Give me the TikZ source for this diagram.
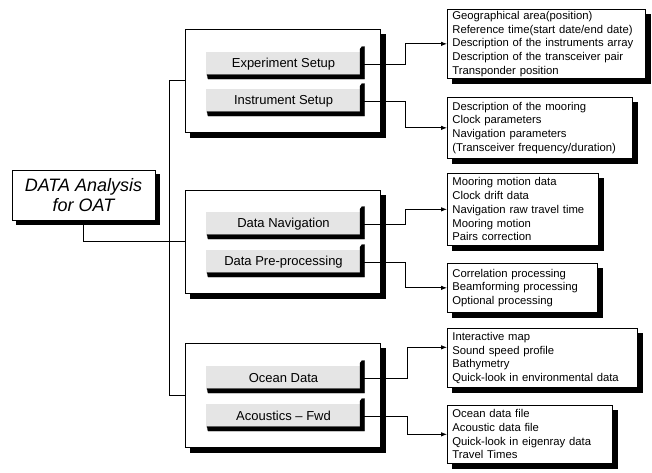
\documentclass[tikz,border=0pt]{standalone}
\usepackage{fontspec}
\setmainfont{Liberation Sans}
\usetikzlibrary{arrows.meta}
\begin{document}
\begin{tikzpicture}[x=1pt,y=-1pt,
  conn/.style={line width=0.8pt},
  arr/.style={conn,-{Latex[length=6pt,width=4.5pt]}},
  shadowfill/.style={fill=black,draw=black,line width=0.2pt},
  grp/.style={draw,line width=0.7pt,fill=white,anchor=north west,inner sep=0pt},
  info/.style={draw,line width=0.7pt,fill=white,anchor=north west,align=left,
    inner xsep=5pt,inner ysep=0pt,font=\fontsize{11.3}{13.7}\selectfont},
  mainbox/.style={draw,line width=0.7pt,fill=white,
    minimum width=143pt,minimum height=50pt,inner sep=0pt,align=center,
    font=\itshape\fontsize{18}{20}\selectfont},
  btn/.style={fill=black!10,minimum width=155pt,minimum height=24pt,inner sep=0pt,
    font=\fontsize{13}{14}\selectfont},
  btnbar/.style={fill=black,draw=black,line width=0.2pt}
  ]
\useasboundingbox (0,0) rectangle (652,472);

% shadows (drawn first)
\path[shadowfill] (155,174) -- (159,174) -- (159,224) -- (16,224) -- (16,220) -- (155,220) -- cycle;
\foreach \ya/\yb in {29/132,190/293,343/447}{
  \path[shadowfill] (380,\ya+5) -- (385,\ya+5) -- (385,\yb+5) -- (190,\yb+5) -- (190,\yb) -- (380,\yb) -- cycle;
}
\foreach \xb/\ya/\yb in {645/9/78,632/97/158,598/173/245,597/263/312,637/328/387,612/405/463}{
  \path[shadowfill] (\xb,\ya+5) -- (\xb+5,\ya+5) -- (\xb+5,\yb+5) -- (452,\yb+5) -- (452,\yb) -- (\xb,\yb) -- cycle;
}

% main node
\node[mainbox] (main) at (83.5,195) {DATA Analysis\\for OAT};

% group boxes
\node[grp,minimum width=195pt,minimum height=103pt] (g1) at (185,29) {};
\node[grp,minimum width=195pt,minimum height=103pt] (g2) at (185,190) {};
\node[grp,minimum width=195pt,minimum height=104pt] (g3) at (185,343) {};

% buttons
\node[btn] (b1) at (283.5,64) {Experiment Setup};
\node[btn] (b2) at (283.5,101) {Instrument Setup};
\node[btn] (b3) at (283.5,224) {Data Navigation};
\node[btn] (b4) at (283.5,262) {Data Pre-processing};
\node[btn] (b5) at (283.5,378) {Ocean Data};
\node[btn] (b6) at (283.5,416) {Acoustics -- Fwd};
\foreach \c in {64,101,224,262,378,416}{
  \path[btnbar] (207,\c+10.5) -- (360,\c+10.5) -- (360,\c-15) -- (362,\c-17.5)
     -- (364.5,\c-17.5) -- (364.5,\c+15) -- (208,\c+15) -- cycle;
}

% info boxes
\node[info,text width=188pt,minimum height=69pt] (r1) at (447,9)
  {Geographical area(position)\\Reference time(start date/end date)\\Description of the instruments array\\Description of the transceiver pair\\Transponder position};
\node[info,text width=175pt,minimum height=61pt] (r2) at (447,97)
  {Description of the mooring\\Clock parameters\\Navigation parameters\\(Transceiver frequency/duration)};
\node[info,text width=141pt,minimum height=72pt] (r3) at (447,173)
  {Mooring motion data\\Clock drift data\\Navigation raw travel time\\Mooring motion\\Pairs correction};
\node[info,text width=140pt,minimum height=49pt] (r4) at (447,263)
  {Correlation processing\\Beamforming processing\\Optional processing};
\node[info,text width=180pt,minimum height=59pt] (r5) at (447,328)
  {Interactive map\\Sound speed profile\\Bathymetry\\Quick-look in environmental data};
\node[info,text width=155pt,minimum height=58pt] (r6) at (447,405)
  {Ocean data file\\Acoustic data file\\Quick-look in eigenray data\\Travel Times};

% tree connectors
\draw[conn] (main.south) |- (g2.west);
\draw[conn] (g1.west) -- ++(-16pt,0pt) |- (g3.west);

% arrows
\draw[arr] (b1.east) -- ++(44pt,0pt) |- (r1.west);
\draw[arr] (b2.east) -- ++(44pt,0pt) |- (r2.west);
\draw[arr] (b3.east) -- ++(44pt,0pt) |- (r3.west);
\draw[arr] (b4.east) -- ++(44pt,0pt) |- (r4.west);
\draw[arr] (b5.east) -- ++(46pt,0pt) |- ([yshift=10.5pt]r5.west);
\draw[arr] (b6.east) -- ++(46pt,0pt) |- (r6.west);
\end{tikzpicture}
\end{document}
